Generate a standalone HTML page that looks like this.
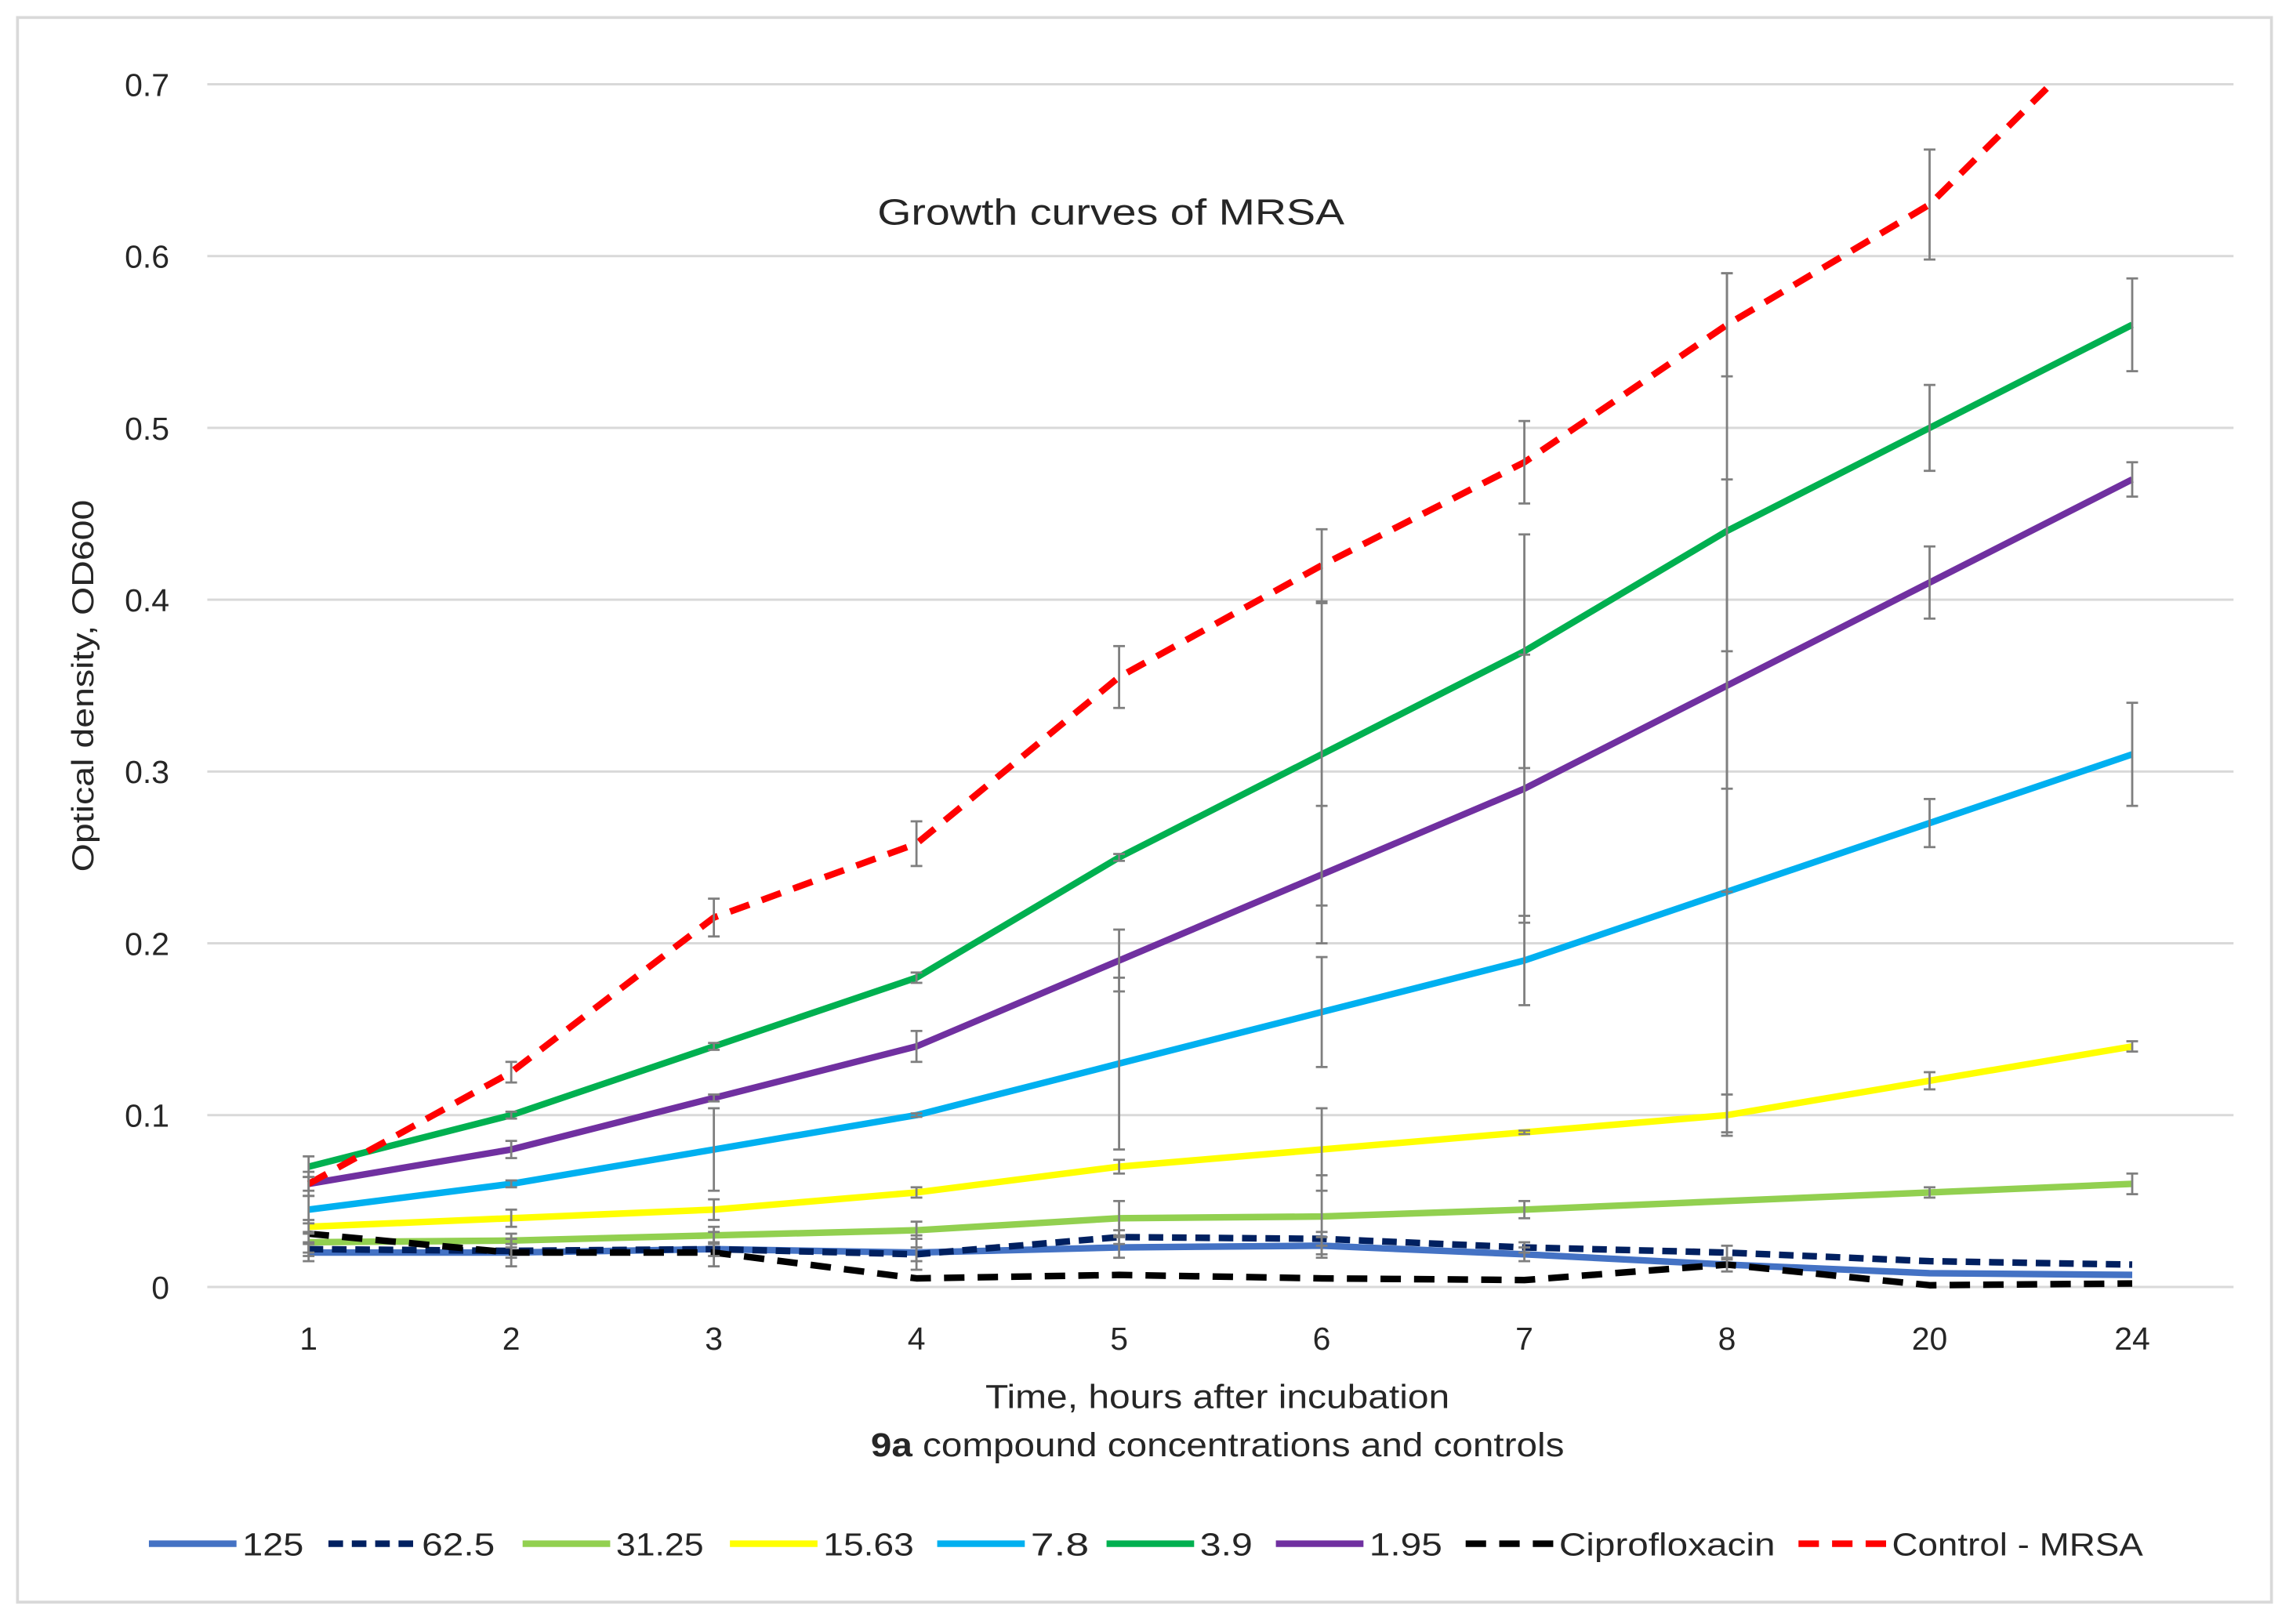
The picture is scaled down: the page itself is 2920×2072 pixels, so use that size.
<!DOCTYPE html>
<html><head><meta charset="utf-8"><style>
html,body{margin:0;padding:0;background:#fff;}
svg{display:block;}
text{font-family:"Liberation Sans",sans-serif;fill:#262626;}
</style></head><body>
<svg id="chart" width="2920" height="2072" viewBox="0 0 1568 1113" preserveAspectRatio="none" xmlns="http://www.w3.org/2000/svg">
<rect x="12" y="12" width="1544" height="1086" fill="#fff" stroke="#d9d9d9" stroke-width="2"/>
<g id="grid"></g>
<g id="ylabels"></g>
<g id="xlabels"></g>
<defs><clipPath id="plotclip"><rect x="142" y="57" width="1400" height="843"/></clipPath></defs>
<g id="series" clip-path="url(#plotclip)"></g>
<g id="errs"></g>
<text x="761" y="154" text-anchor="middle" font-size="25" textLength="320" lengthAdjust="spacingAndGlyphs">Growth curves of MRSA</text>
<text x="834" y="965" text-anchor="middle" font-size="23" textLength="318" lengthAdjust="spacingAndGlyphs">Time, hours after incubation</text>
<text x="834" y="998" text-anchor="middle" font-size="23" textLength="475" lengthAdjust="spacingAndGlyphs"><tspan font-weight="bold">9a</tspan> compound concentrations and controls</text>
<text transform="translate(64,470) rotate(-90)" text-anchor="middle" font-size="21" textLength="255" lengthAdjust="spacingAndGlyphs">Optical density, OD600</text>
<g id="legend"></g>
</svg>
<script>
const categories = ["1","2","3","4","5","6","7","8","20","24"];
const yTicks = [0,0.1,0.2,0.3,0.4,0.5,0.6,0.7];
const yTickLabels = ["0","0.1","0.2","0.3","0.4","0.5","0.6","0.7"];
const seriesNames = ["125","62.5","31.25","15.63","7.8","3.9","1.95","Ciprofloxacin","Control - MRSA"];
const s125 = [0.020,0.020,0.022,0.020,0.023,0.024,0.019,0.013,0.008,0.007];
const s62 = [0.022,0.021,0.022,0.019,0.029,0.028,0.023,0.020,0.015,0.013];
const s31 = [0.026,0.027,0.030,0.033,0.040,0.041,0.045,0.050,0.055,0.060];
const s15 = [0.035,0.040,0.045,0.055,0.070,0.080,0.090,0.100,0.120,0.140];
const s7 = [0.045,0.060,0.080,0.100,0.130,0.160,0.190,0.230,0.270,0.310];
const s3 = [0.070,0.100,0.140,0.180,0.250,0.310,0.370,0.440,0.500,0.560];
const s1 = [0.060,0.080,0.110,0.140,0.190,0.240,0.290,0.350,0.410,0.470];
const sCipro = [0.031,0.020,0.020,0.005,0.007,0.005,0.004,0.013,0.001,0.002];
const sControl = [0.060,0.125,0.215,0.258,0.355,0.420,0.480,0.560,0.630,0.747];
const e125 = [0.005,0.008,0.010,0.010,0.006,0.005,0.004,0.004,0,0];
const e62 = [0.004,0.004,0.004,0.004,0.004,0.004,0.003,0.004,0,0];
const e31 = [0.006,0.004,0.005,0.005,0.010,0.024,0.005,0,0.003,0.006];
const e15 = [0.004,0.005,0.006,0.003,0.004,0.024,0.001,0.012,0.005,0.003];
const e7 = [0.008,0.002,0.024,0.001,0.050,0.032,0.026,0.140,0.014,0.030];
const e3 = [0.006,0.002,0.002,0.003,0.002,0.088,0.068,0.150,0.025,0.027];
const e1 = [0.004,0.005,0.002,0.009,0.018,0.040,0.078,0.120,0.021,0.010];
const eCipro = [0,0,0,0,0,0,0,0,0,0];
const eControl = [0.007,0.006,0.011,0.013,0.018,0.021,0.024,0.030,0.032,0];

const X0=142, X1=1530, Y0=882, YPER=1177.5;
const ns="http://www.w3.org/2000/svg";
function xPos(i){return X0+(X1-X0)/categories.length*(i+0.5);}
function yPos(v){return Y0-v*YPER;}
function mk(tag,attrs,parent){const e=document.createElementNS(ns,tag);for(const k in attrs)e.setAttribute(k,attrs[k]);parent.appendChild(e);return e;}

const grid=document.getElementById('grid'), yl=document.getElementById('ylabels'), xl=document.getElementById('xlabels');
yTicks.forEach((t,i)=>{
  const l=mk('line',{x1:X0,x2:X1,y1:yPos(t),y2:yPos(t),stroke:'#d9d9d9','stroke-width':1.6},grid);
  
  
  const tx=mk('text',{x:116,y:yPos(t)+8,'text-anchor':'end','font-size':22},yl);
  tx.textContent=yTickLabels[i];
  
  
});
categories.forEach((c,i)=>{
  const tx=mk('text',{x:xPos(i),y:925,'text-anchor':'middle','font-size':22},xl);
  tx.textContent=c;
  
  
});

const seriesData=[s125,s62,s31,s15,s7,s3,s1,sCipro,sControl];
const errData=[e125,e62,e31,e15,e7,e3,e1,eCipro,eControl];
const colors=['#4472c4','#002060','#92d050','#ffff00','#00b0f0','#00b050','#7030a0','#000000','#ff0000'];
const dashes=['','10 6','','','','','','14 9','14 9'];
const sg=document.getElementById('series'), eg=document.getElementById('errs');
seriesData.forEach((d,si)=>{
  const pts=d.map((v,i)=>xPos(i)+','+yPos(v)).join(' ');
  const p=mk('polyline',{points:pts,fill:'none',stroke:colors[si],'stroke-width':4.5,'stroke-linejoin':'round'},sg);
  if(dashes[si])p.setAttribute('stroke-dasharray',dashes[si]);
  
  
});
seriesData.forEach((d,si)=>{
  d.forEach((v,i)=>{
    const e=errData[si][i]; if(!e) return;
    const top=Math.max(yPos(v+e),50), bot=yPos(Math.max(v-e,0)), x=xPos(i);
    const g=mk('g',{stroke:'#7f7f7f','stroke-width':1.5},eg);
    
    
    mk('line',{x1:x,x2:x,y1:top,y2:bot},g);
    mk('line',{x1:x-4,x2:x+4,y1:top,y2:top},g);
    mk('line',{x1:x-4,x2:x+4,y1:bot,y2:bot},g);
  });
});

const lg=document.getElementById('legend');
const legX=[102,225,358,500,642,758,874,1004,1232];
const legW=[42,50,60,62,40,36,50,148,172];
seriesNames.forEach((n,i)=>{
  const g=mk('g',{},lg);
  
  
  const l=mk('line',{x1:legX[i],x2:legX[i]+60,y1:1058,y2:1058,stroke:colors[i],'stroke-width':4.5},g);
  if(dashes[i])l.setAttribute('stroke-dasharray',i===1?'10 6':'14 9');
  const t=mk('text',{x:legX[i]+64,y:1066,'font-size':22,textLength:legW[i],lengthAdjust:'spacingAndGlyphs'},g);
  t.textContent=n;
});
</script>
</body></html>
